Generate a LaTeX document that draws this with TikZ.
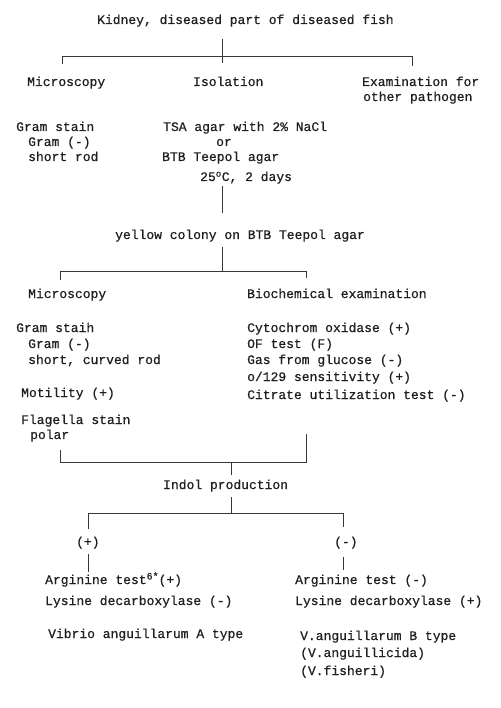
\documentclass[tikz,border=0pt]{standalone}
\usepackage{fontspec}
\setmonofont[FakeBold=0.6]{Liberation Mono}
\newcommand{\supsm}[1]{\raisebox{4.5pt}{\fontsize{10}{10}\selectfont #1}}
\begin{document}
\begin{tikzpicture}[x=1pt,y=-1pt,
  txt/.style={font=\ttfamily\fontsize{13}{15}\selectfont, inner sep=0pt, anchor=base west, text=black!88},
  ln/.style={line width=0.75pt, draw=black!78}]
\useasboundingbox (0,0) rectangle (500,708);
% texts (baseline = visual centre + 4)
\node[txt] (title) at (97,24) {Kidney, diseased part of diseased fish};
\node[txt] (mic1) at (27,86) {Microscopy};
\node[txt] (iso) at (193,86) {Isolation};
\node[txt] (exa) at (362,86) {Examination for};
\node[txt] (oth) at (363,101) {other pathogen};
\node[txt] (gs1) at (16,131) {Gram stain};
\node[txt] (gn1) at (28,146) {Gram (-)};
\node[txt] (sr1) at (28,161) {short rod};
\node[txt] (tsa) at (163,131) {TSA agar with 2\% NaCl};
\node[txt] (or) at (216,146) {or};
\node[txt] (btb) at (162,161) {BTB Teepol agar};
\node[txt] (temp) at (200,181) {25\textsuperscript{o}C, 2 days};
\node[txt] (yel) at (115,239) {yellow colony on BTB Teepol agar};
\node[txt] (mic2) at (28,298) {Microscopy};
\node[txt] (bio) at (247,298) {Biochemical examination};
\node[txt] (gs2) at (16,332) {Gram staih};
\node[txt] (gn2) at (28,348) {Gram (-)};
\node[txt] (scr) at (28,364) {short, curved rod};
\node[txt] (mot) at (21,397) {Motility (+)};
\node[txt] (fla) at (21,424) {Flagella stain};
\node[txt] (pol) at (30,439) {polar};
\node[txt] (cyt) at (247,332) {Cytochrom oxidase (+)};
\node[txt] (oft) at (247,348) {OF test (F)};
\node[txt] (gas) at (247,364) {Gas from glucose (-)};
\node[txt] (o129) at (247,381) {o/129 sensitivity (+)};
\node[txt] (cit) at (247,399) {Citrate utilization test (-)};
\node[txt] (ind) at (163,489) {Indol production};
\node[txt] (pos) at (76,546) {(+)};
\node[txt] (neg) at (334,546) {(-)};
\node[txt] (argp) at (45,584) {Arginine test\supsm{6*}(+)};
\node[txt] (argn) at (295,584) {Arginine test (-)};
\node[txt] (lysn) at (45,605) {Lysine decarboxylase (-)};
\node[txt] (lysp) at (295,605) {Lysine decarboxylase (+)};
\node[txt] (via) at (48,638) {Vibrio anguillarum A type};
\node[txt] (vib) at (300,640) {V.anguillarum B type};
\node[txt] (vic) at (300,657) {(V.anguillicida)};
\node[txt] (vif) at (300,675) {(V.fisheri)};
% junction coordinates
\coordinate (a0) at (222,39);
\coordinate (a1) at (222,56);
\coordinate (aL) at (62,56);
\coordinate (aR) at (412,56);
\coordinate (aLd) at (62,64);
\coordinate (aMd) at (222,63);
\coordinate (aRd) at (412,66);
\coordinate (b0) at (222,186);
\coordinate (b1) at (222,213);
\coordinate (c0) at (222,247);
\coordinate (c1) at (222,271);
\coordinate (cL) at (60,271);
\coordinate (cR) at (306,271);
\coordinate (cLd) at (60,280);
\coordinate (cRd) at (306,278);
\coordinate (dLu) at (60,450);
\coordinate (dRu) at (306,434);
\coordinate (dL) at (60,462);
\coordinate (dR) at (306,462);
\coordinate (d1) at (231,462);
\coordinate (d2) at (231,475);
\coordinate (e0) at (231,497);
\coordinate (e1) at (231,513);
\coordinate (eL) at (88,513);
\coordinate (eR) at (343,513);
\coordinate (eLd) at (88,529);
\coordinate (eRd) at (343,527);
\coordinate (fL0) at (88,554);
\coordinate (fL1) at (88,572);
\coordinate (fR0) at (343,557);
\coordinate (fR1) at (343,570);
% connectors
\draw[ln] (a0) -- (a1);
\draw[ln] (aLd) -- (aL) -- (aR) -- (aRd);
\draw[ln] (a1) -- (aMd);
\draw[ln] (b0) -- (b1);
\draw[ln] (c0) -- (c1);
\draw[ln] (cLd) -- (cL) -- (cR) -- (cRd);
\draw[ln] (dLu) -- (dL) -- (dR) -- (dRu);
\draw[ln] (d1) -- (d2);
\draw[ln] (e0) -- (e1);
\draw[ln] (eLd) -- (eL) -- (eR) -- (eRd);
\draw[ln] (fL0) -- (fL1);
\draw[ln] (fR0) -- (fR1);
\end{tikzpicture}
\end{document}
